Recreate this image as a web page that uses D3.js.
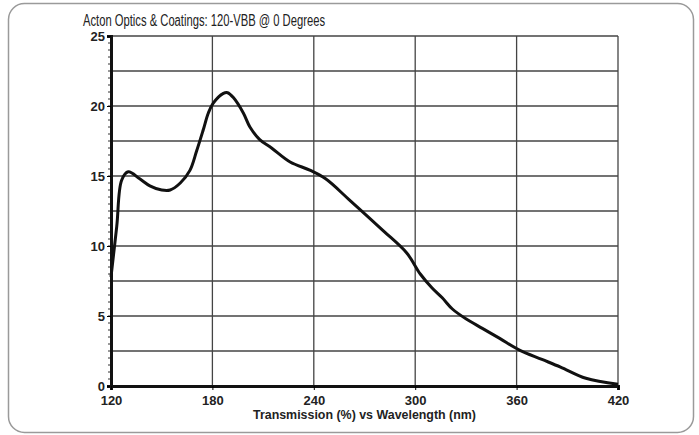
<!DOCTYPE html>
<html>
<head>
<meta charset="utf-8">
<script src="https://cdn.jsdelivr.net/npm/d3@7"></script>
<style>
  body { margin: 0; background: #fff; }
  text { font-family: "Liberation Sans Narrow", "Liberation Sans", sans-serif; fill: #222; }
</style>
</head>
<body>
<div id="chart"></div>
<script>
// transmission curve
const wavelength = [120, 123.4, 126.3, 130.2, 137, 143, 150, 155, 161, 166.7, 170.7, 174.6, 177.6, 180.5, 186.5, 189, 192.4, 198.3, 202.2, 208, 215, 226, 238, 247, 261, 281, 295, 303, 310, 316, 322, 330, 340, 350, 362, 375, 386, 401, 420];
const transmission = [7.8, 11.4, 14.7, 15.3, 14.8, 14.3, 14.0, 14.0, 14.5, 15.4, 16.8, 18.3, 19.5, 20.2, 20.9, 20.95, 20.6, 19.5, 18.5, 17.6, 17.0, 16.0, 15.4, 14.8, 13.3, 11.1, 9.5, 8.0, 7.0, 6.3, 5.5, 4.8, 4.1, 3.4, 2.55, 1.9, 1.35, 0.55, 0.12];
const xTicks = [120, 180, 240, 300, 360, 420];
const yTicks = [0, 5, 10, 15, 20, 25];

const W = 699, H = 435;
const margin = { top: 36, right: 81, bottom: 49, left: 111 };
const width = W - margin.left - margin.right;
const height = H - margin.top - margin.bottom;

const root = d3.select("#chart").append("svg")
  .attr("width", W).attr("height", H);

root.append("rect")
  .attr("x", 8.5).attr("y", 3.5).attr("width", 685).attr("height", 429)
  .attr("rx", 16).attr("fill", "#fff").attr("stroke", "#9a9a9a").attr("stroke-width", 1.5);

const svg = root.append("g").attr("transform", `translate(${margin.left},${margin.top})`);

const x = d3.scaleLinear().domain([120, 420]).range([0, width]);
const y = d3.scaleLinear().domain([0, 25]).range([height, 0]);

// grid
svg.append("g").selectAll("line")
  .data(d3.range(2.5, 25.01, 2.5))
  .join("line")
  .attr("x1", 0).attr("x2", width)
  .attr("y1", d => y(d)).attr("y2", d => y(d))
  .attr("stroke", "#444").attr("stroke-width", 1.3);

svg.append("g").selectAll("line")
  .data(xTicks.slice(1))
  .join("line")
  .attr("x1", d => x(d)).attr("x2", d => x(d))
  .attr("y1", 0).attr("y2", height)
  .attr("stroke", "#444").attr("stroke-width", 1.3);

// minor ticks on the y axis
svg.append("g").selectAll("line")
  .data(d3.range(0, 25.01, 0.5))
  .join("line")
  .attr("x1", -3).attr("x2", 0)
  .attr("y1", d => y(d)).attr("y2", d => y(d))
  .attr("stroke", "#333").attr("stroke-width", 1);

// axes
const yAxis = svg.append("g")
  .call(d3.axisLeft(y).tickValues(yTicks).tickSize(4).tickPadding(2));
yAxis.select(".domain").attr("stroke", "#111").attr("stroke-width", 3);
yAxis.selectAll("text").attr("font-size", 13).attr("font-weight", "bold").attr("fill", "#3a3a3a");

const xAxis = svg.append("g")
  .attr("transform", `translate(0,${height})`)
  .call(d3.axisBottom(x).tickValues(xTicks).tickSize(4).tickPadding(6));
xAxis.select(".domain").attr("stroke", "#111").attr("stroke-width", 3);
xAxis.selectAll("text").attr("font-size", 13).attr("font-weight", "bold").attr("fill", "#3a3a3a");

// curve
const pts = wavelength.map((w, i) => [w, transmission[i]]);
svg.append("path")
  .datum(pts)
  .attr("fill", "none")
  .attr("stroke", "#111")
  .attr("stroke-width", 3)
  .attr("stroke-linejoin", "round")
  .attr("d", d3.line().x(d => x(d[0])).y(d => y(d[1])).curve(d3.curveCatmullRom.alpha(0.5)));

// title and axis label
root.append("text")
  .attr("x", 83).attr("y", 26)
  .attr("font-size", 16)
  .attr("textLength", 242).attr("lengthAdjust", "spacingAndGlyphs")
  .text("Acton Optics & Coatings: 120-VBB @ 0 Degrees");

root.append("text")
  .attr("x", 253).attr("y", 419)
  .attr("font-size", 13).attr("font-weight", "bold").attr("fill", "#333")
  .attr("textLength", 223).attr("lengthAdjust", "spacingAndGlyphs")
  .text("Transmission (%) vs Wavelength (nm)");
</script>
</body>
</html>
